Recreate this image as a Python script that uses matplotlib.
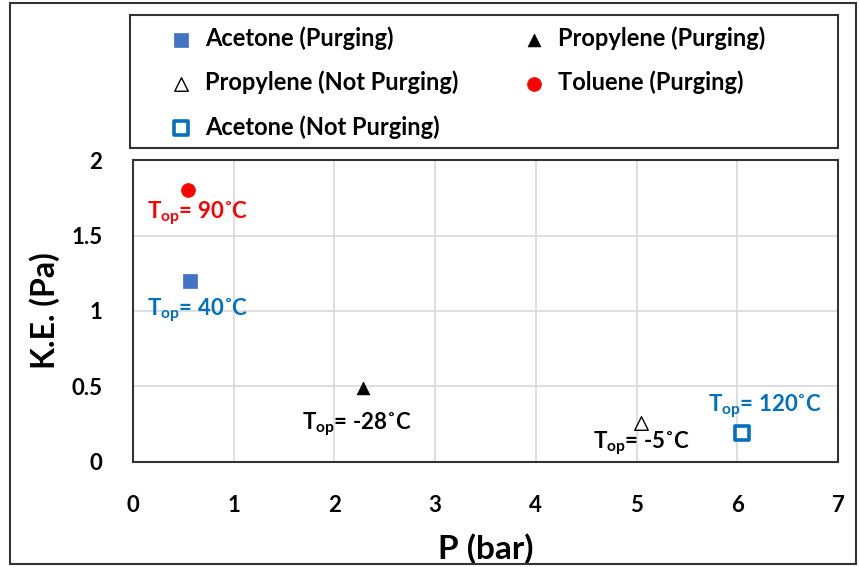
import numpy as np
import matplotlib.pyplot as plt
from matplotlib.patches import Rectangle

plt.rcParams['font.family'] = ['Lato', 'DejaVu Sans']
plt.rcParams['mathtext.fontset'] = 'custom'
plt.rcParams['mathtext.rm'] = 'Lato:bold'
plt.rcParams['mathtext.it'] = 'Lato:bold'
plt.rcParams['mathtext.bf'] = 'Lato:bold'

# data
series = ['Acetone (Purging)', 'Propylene (Purging)',
          'Propylene (Not Purging)', 'Toluene (Purging)',
          'Acetone (Not Purging)']
p_bar = [0.57, 2.28, 5.04, 0.55, 6.05]
ke_pa = [1.20, 0.49, 0.26, 1.80, 0.19]
temps = ['40', '-28', '-5', '90', '120']

# styles for each series
markers = ['s', '^', '^', 'o', 's']
faces = ['#4472C4', 'black', 'white', '#FF0000', 'white']
edges = ['#4472C4', 'black', 'black', '#FF0000', '#0070C0']
sizes = [110, 85, 95, 100, 95]
lws = [0.5, 0.5, 1.0, 0.5, 2.6]
label_colors = ['#0070C0', 'black', 'black', '#FF0000', '#0070C0']
label_offsets = [(0.075, -0.193), (-0.056, -0.238), (0.005, -0.134),
                 (0.095, -0.151), (0.226, 0.181)]

fig = plt.figure(figsize=(8.59, 5.67), dpi=100)
ax = fig.add_axes([0.1548, 0.1852, 0.8208, 0.5326])

handles = []
for i in range(len(series)):
    h = ax.scatter(p_bar[i], ke_pa[i], marker=markers[i], s=sizes[i],
                   facecolor=faces[i], edgecolor=edges[i],
                   linewidths=lws[i], zorder=3, label=series[i])
    handles.append(h)
    dx, dy = label_offsets[i]
    ax.text(p_bar[i] + dx, ke_pa[i] + dy,
            r'T$_{\mathrm{op}}$= ' + temps[i] + '˚C',
            color=label_colors[i], fontsize=16, fontweight='bold',
            ha='center', va='center', zorder=4)

ax.set_xlim(0, 7)
ax.set_ylim(0, 2)
ax.set_xticks(np.arange(0, 8, 1))
ax.set_yticks([0, 0.5, 1, 1.5, 2])
ax.set_yticklabels(['0', '0.5', '1', '1.5', '2'])
ax.grid(True, color='#D9D9D9', linewidth=1.2)
ax.set_axisbelow(True)
ax.tick_params(length=0, labelsize=16)
ax.tick_params(axis='y', pad=22)
ax.tick_params(axis='x', pad=24)
for lab in ax.get_xticklabels() + ax.get_yticklabels():
    lab.set_fontweight('bold')
for sp in ax.spines.values():
    sp.set_color('#333333')
    sp.set_linewidth(1.5)

ax.set_xlabel('P (bar)', fontsize=24, fontweight='bold', labelpad=12)
ax.set_ylabel('K.E. (Pa)', fontsize=23, fontweight='bold', labelpad=8)

# legend in its own box above the plot
order = [0, 2, 4, 1, 3]
leg = fig.legend([handles[k] for k in order], [series[k] for k in order],
                 ncol=2, loc='upper left',
                 bbox_to_anchor=(169 / 859, 0.953),
                 prop={'weight': 'bold', 'size': 17},
                 frameon=False, labelspacing=0.87, handlelength=1.0,
                 handletextpad=0.52, columnspacing=2.7,
                 borderpad=0, borderaxespad=0, scatterpoints=1)

# box around the legend
fig.patches.append(Rectangle((0.1513, 0.739), 0.824, 0.2346,
                             transform=fig.transFigure, fill=False,
                             edgecolor='#333333', linewidth=1.5))

# outer border of the figure
fig.patches.append(Rectangle((0.012, 0.006), 0.984, 0.988,
                             transform=fig.transFigure, fill=False,
                             edgecolor='#333333', linewidth=1.5))

fig.savefig('out.png', dpi=100)
